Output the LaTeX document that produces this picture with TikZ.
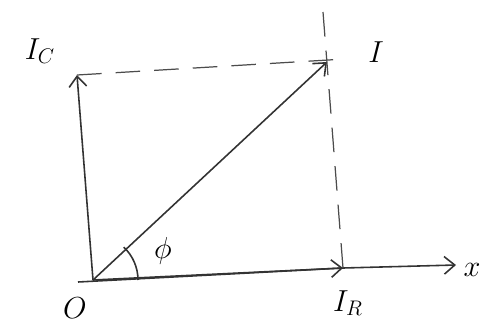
\documentclass[tikz,border=0pt]{standalone}
\usetikzlibrary{arrows.meta}
\begin{document}
\begin{tikzpicture}[x=0.02cm,y=-0.02cm,
  vec/.style={line width=0.9pt,draw=black!80,-{Straight Barb[length=6pt,width=10pt]}},
  guide/.style={line width=0.7pt,draw=black!70,dash pattern=on 14pt off 8pt},
  lbl/.style={font=\fontsize{17}{20}\selectfont,inner sep=1pt}]
\useasboundingbox (0,0) rectangle (487,322);
\coordinate (O) at (93,280);
\coordinate (C) at (77,75);
\coordinate (P) at (327,62);
\coordinate (R) at (343,268);
\coordinate (X) at (456,265);
\coordinate (Xs) at (78,282);
\coordinate (Vt) at (323,12);
\coordinate (Ht) at (345,59);
% axes and vectors
\draw[line width=0.9pt,draw=black!80] (Xs) -- (R);
\draw[vec] (R) -- (X);
\draw[vec] (O) -- (R);
\draw[vec] (O) -- (C);
\draw[vec] (O) -- (P);
% projections
\draw[guide] (C) -- (Ht);
\draw[guide] (Vt) -- (R);
% angle
\draw[line width=0.9pt,draw=black!80] ([shift={(0:45)}]O) arc[start angle=0,end angle=-47,radius=45];
% labels
\node[lbl] (lC) at (40,51) {$I_C$};
\node[lbl] (lI) at (376,52) {$I$};
\node[lbl] (lR) at (348,303) {$I_R$};
\node[lbl] (lO) at (75,308) {$O$};
\node[lbl] (lx) at (472,270) {$x$};
\node[lbl] (lphi) at (163,251) {$\phi$};
\end{tikzpicture}
\end{document}
